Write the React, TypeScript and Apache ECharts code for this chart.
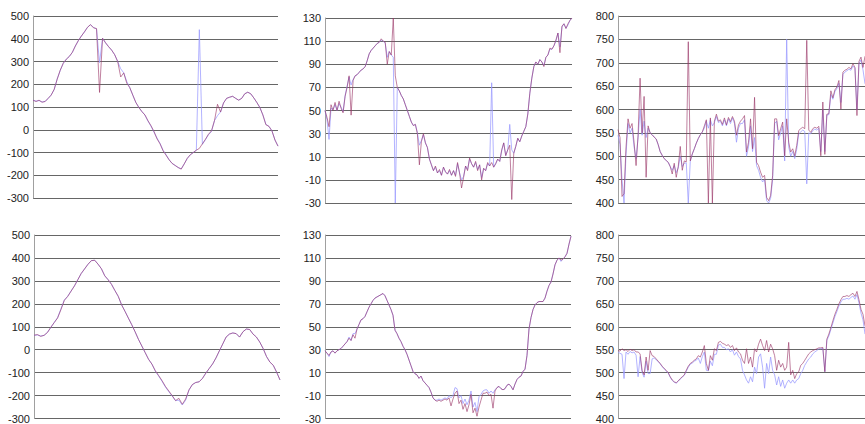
import React, { useEffect, useRef } from "react";
import * as echarts from "echarts";

// Y axis ranges: [min, max, interval]
const rangeA = [-300, 500, 100];
const rangeB = [-30, 130, 20];
const rangeC = [400, 800, 50];

// Panel 1 (top-left)
const p1Blue = [130,126,128,122,125,137,153,176,224,260,292,310,322,340,368,392,412,430,450,462,450,443,295,402,382,365,350,330,300,268,250,212,185,152,120,98,80,65,38,16,-10,-36,-60,-90,-110,-132,-148,-157,-166,-172,-150,-126,-110,-100,-90,440,-64,-44,-22,-8,40,62,78,118,138,143,147,138,130,138,158,165,158,140,120,98,65,24,15,-5,-45,-72];
const p1Red = [130,124,130,121,124,138,152,178,222,262,292,310,322,340,368,392,412,430,450,462,448,445,164,402,382,365,350,330,300,232,250,205,185,152,120,98,80,65,40,18,-8,-40,-62,-92,-112,-132,-148,-157,-166,-173,-150,-126,-110,-100,-90,-82,-62,-42,-20,-5,40,112,78,118,138,143,147,138,130,138,158,165,158,140,120,98,65,22,15,-5,-45,-72];

// Panel 2 (top-middle)
const p2Blue = [50,42,25,52,51,55,50,56,53,49,63,71,79,72,77,80,81,83,85,86,88,93,99,102,104,106,108,109,111,110,108,96,101,98,96,-30,70,67,63,60,55,50,45,40,37,38,31,20,24,29,22,18,8,3,-2,1,-4,-2,-6,1,-3,-5,-2,-6,-2,-6,4,-4,-10,-7,2,-1,8,4,1,5,-1,3,-8,0,-2,4,2,74,1,4,8,6,15,22,11,16,38,16,13,19,26,23,28,32,36,47,65,78,88,92,90,94,92,89,96,98,103,103,106,110,117,105,122,125,121,124,128,130];
const p2Red = [50,44,36,55,50,57,50,58,52,48,62,70,80,46,76,80,81,83,85,86,88,93,99,102,104,106,108,109,112,110,109,90,101,98,130,80,70,67,63,60,55,50,45,40,37,38,30,3,23,30,22,18,8,3,-2,2,-4,-1,-6,1,-3,-5,-1,-6,-2,-7,5,-4,-17,-8,2,-2,9,4,1,6,-2,3,-10,0,-2,5,2,5,1,4,8,6,16,22,11,16,20,-27,13,19,26,23,28,32,36,47,65,78,88,92,90,94,92,88,96,98,104,103,106,111,117,100,123,125,121,125,128,130];

// Panel 3 (top-right)
const p3Blue = [545,525,450,400,505,570,550,560,520,495,540,600,545,575,540,560,550,546,541,537,525,510,502,495,491,487,478,470,480,465,475,500,478,485,486,400,490,505,516,528,538,546,552,560,575,560,578,565,572,585,572,575,565,578,565,580,570,582,570,530,560,570,570,578,500,520,565,510,540,480,470,455,445,450,405,400,410,450,570,575,535,550,565,490,750,520,500,510,495,515,548,552,556,553,441,550,548,555,558,556,560,510,600,510,588,589,632,622,638,645,656,615,675,680,683,686,684,693,688,600,698,706,685,655];
const p3Red = [557,540,414,420,520,580,560,570,530,480,545,667,550,628,455,565,550,546,541,537,525,510,502,495,491,487,478,462,485,455,478,521,470,490,488,745,490,505,516,528,538,546,552,565,578,400,582,400,575,590,575,578,568,582,567,583,574,585,575,545,567,575,580,587,509,530,580,516,626,487,480,466,455,459,412,405,416,459,580,580,544,559,573,501,580,530,509,516,501,523,555,559,562,559,748,556,551,559,562,560,564,501,616,504,590,591,640,625,642,648,662,601,680,684,686,690,687,698,690,587,703,712,690,714];

// Panel 4 (bottom-left)
const p4Blue = [63,64,60,62,76,97,119,140,178,217,233,256,278,305,332,352,372,388,390,373,353,322,305,285,258,232,196,168,138,109,78,45,16,-13,-42,-63,-93,-115,-138,-163,-183,-202,-222,-220,-241,-220,-176,-152,-143,-140,-125,-102,-82,-62,-36,-6,24,55,68,73,70,55,78,90,88,68,55,33,5,-30,-54,-68,-98,-132];
const p4Red = [63,66,58,63,75,98,118,138,175,215,232,255,278,305,332,352,372,388,390,373,353,322,305,285,258,233,195,167,138,109,78,45,16,-13,-42,-63,-92,-113,-135,-160,-180,-200,-222,-212,-238,-215,-175,-152,-143,-140,-125,-102,-82,-62,-36,-5,25,55,68,73,70,55,78,90,88,68,55,33,5,-30,-54,-68,-98,-132];

// Panel 5 (bottom-middle)
const p5Blue = [29,27,24,28,29,27,29,30,31,33,35,37,41,38,44,44,48,52,56,57,59,63,67,70,73,75,76,77,78,79,77,73,69,65,60,47,44,40,37,33,30,26,21,16,11,9,8,5,7,3,1,-1,-3,-7,-12,-14,-14,-13,-14,-13,-12,-13,-10,-12,-10,-3,-4,-12,-10,-17,-13,-18,-14,-6,-20,-16,-24,-11,-9,-6,-5,-5,-8,-6,-8,-5,-3,-2,-4,-5,-4,-1,0,-2,-5,0,4,6,7,11,13,25,48,58,65,69,71,72,72,72,75,81,86,89,96,104,108,110,107,109,111,114,122,129];
const p5Red = [29,27,25,28,29,27,29,30,31,33,35,37,40,38,43,40,48,52,56,57,59,63,67,70,73,75,76,77,78,79,77,73,69,65,60,47,44,40,37,33,30,26,21,16,11,9,8,5,7,3,1,-1,-3,-7,-12,-14,-15,-14,-15,-14,-13,-14,-12,-19,-13,-8,-6,-17,-14,-22,-17,-24,-18,-9,-25,-21,-28,-20,-14,-8,-8,-7,-10,-9,-21,-6,-3,-2,-4,-5,-4,-1,0,-2,-5,0,4,6,7,11,13,25,48,58,65,69,71,72,72,72,75,81,86,89,96,104,108,110,108,109,111,114,122,129];

// Panel 6 (bottom-right)
const p6Blue = [545,542,540,487,545,540,546,543,545,538,491,535,500,490,525,498,498,530,532,528,524,519,513,508,504,499,490,483,479,477,481,486,490,494,503,512,518,521,525,527,532,520,535,545,505,504,525,515,540,540,560,562,555,555,550,552,545,550,538,545,535,530,505,495,484,477,491,480,512,498,534,541,512,466,520,498,534,505,495,473,491,470,484,466,477,484,477,484,477,484,487,498,505,516,523,530,534,541,545,548,552,552,553,502,570,580,594,608,622,633,645,654,660,660,662,660,664,667,660,670,652,630,615,584];
const p6Red = [548,547,552,548,550,546,551,548,550,545,545,541,505,495,534,505,548,537,535,530,525,520,514,509,505,500,491,484,480,478,482,487,491,495,505,514,520,523,527,530,537,534,545,559,520,505,537,527,552,548,566,568,564,562,559,561,555,559,548,554,545,541,527,520,552,520,534,512,552,545,562,573,559,548,570,545,562,552,537,505,527,512,520,505,512,566,495,505,487,498,502,516,520,527,534,541,545,548,550,552,554,554,555,502,573,584,598,613,627,638,650,659,666,666,668,666,670,673,666,677,659,638,627,602];

const panels = [
  { blue: p1Blue, red: p1Red, range: rangeA, grid: { left: 33, top: 16, width: 245, height: 182 } },
  { blue: p2Blue, red: p2Red, range: rangeB, grid: { left: 325, top: 18, width: 247, height: 185 } },
  { blue: p3Blue, red: p3Red, range: rangeC, grid: { left: 618, top: 16, width: 247, height: 187 } },
  { blue: p4Blue, red: p4Red, range: rangeA, grid: { left: 34, top: 235, width: 246, height: 185 } },
  { blue: p5Blue, red: p5Red, range: rangeB, grid: { left: 325, top: 235, width: 246, height: 185 } },
  { blue: p6Blue, red: p6Red, range: rangeC, grid: { left: 618, top: 235, width: 247, height: 185 } },
];

export default function App() {
  const ref = useRef<HTMLDivElement>(null);
  useEffect(() => {
    if (!ref.current) return;
    const chart = echarts.init(ref.current, undefined, { renderer: "svg" });
    chart.setOption({
      animation: false,
      backgroundColor: "#ffffff",
      grid: panels.map((p) => ({ ...p.grid })),
      xAxis: panels.map((p, i) => ({
        type: "category",
        gridIndex: i,
        boundaryGap: false,
        data: p.red.map((_, k) => String(k)),
        show: false,
      })),
      yAxis: panels.map((p, i) => ({
        type: "value",
        gridIndex: i,
        min: p.range[0],
        max: p.range[1],
        interval: p.range[2],
        axisLine: { show: true, lineStyle: { color: "#a0a0a0", width: 1 } },
        axisTick: { show: false },
        axisLabel: {
          fontSize: 11,
          color: "#222222",
          margin: 4,
          fontFamily: "'Liberation Sans', Arial, sans-serif",
        },
        splitLine: { show: true, lineStyle: { color: "#666666", width: 1 } },
      })),
      series: panels.flatMap((p, i) => [
        {
          type: "line",
          xAxisIndex: i,
          yAxisIndex: i,
          data: p.blue,
          showSymbol: false,
          silent: true,
          lineStyle: { color: "#9999ff", width: 1, opacity: 0.75 },
          emphasis: { disabled: true },
        },
        {
          type: "line",
          xAxisIndex: i,
          yAxisIndex: i,
          data: p.red,
          showSymbol: false,
          silent: true,
          lineStyle: { color: "#993366", width: 1, opacity: 0.62 },
          emphasis: { disabled: true },
        },
      ]),
    });
    return () => chart.dispose();
  }, []);
  return (
    <div
      ref={ref}
      style={{ position: "absolute", left: 0, top: 0, width: 865, height: 424, background: "#fff" }}
    />
  );
}
